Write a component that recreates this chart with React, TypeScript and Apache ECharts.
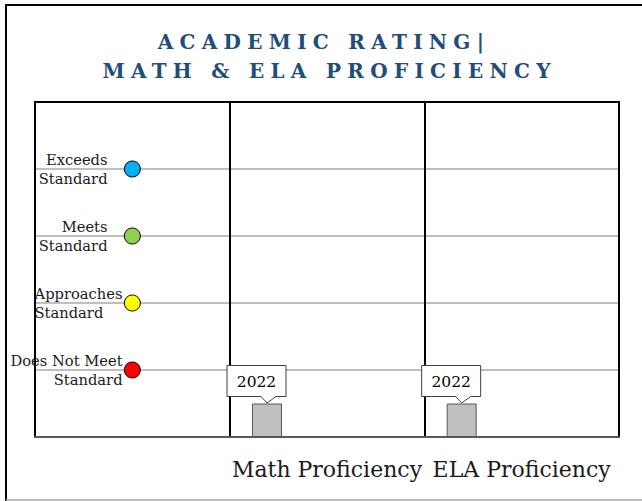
import React, { useEffect, useRef } from "react";
import * as echarts from "echarts";

// ---- data ----
const titleLines = ["ACADEMIC RATING|", "MATH & ELA PROFICIENCY"];
const categories = ["", "Math Proficiency", "ELA Proficiency"];
const ratingLabels = ["Does Not Meet\nStandard", "Approaches\nStandard", "Meets\nStandard", "Exceeds\nStandard"];
const ratingValues = [1, 2, 3, 4];
const ratingColors = ["#ff0000", "#ffff00", "#92d050", "#00b0f0"];
const yearName = "2022";
const values2022 = [null, 0.5, 0.5];
const emptySlots = ["slot2", "slot3"]; // unused bar slots beside 2022

const SERIF = "DejaVu Serif";
const TITLE_COLOR = "#1f4e79";
const TITLE_SPACING = 6.3;
const BAR_W = 30;

// label placement per rating (offset from symbol box, alignment)
const ratingLabelPos: [number, number, string][] = [
  [-1.3, 8, "right"],
  [-89.3, 8, "left"],
  [-16.3, 8, "right"],
  [-16.3, 8, "right"],
];

export default function App() {
  const ref = useRef<HTMLDivElement>(null);

  useEffect(() => {
    if (!ref.current) return;
    const chart = echarts.init(ref.current, undefined, { renderer: "svg" });

    const nSlots = 1 + emptySlots.length;
    const total = nSlots * BAR_W + (nSlots - 1) * BAR_W;
    const firstOffset = -total / 2 + BAR_W / 2;

    const scatterData = ratingValues.map((v, i) => ({
      value: [0, v],
      itemStyle: { color: ratingColors[i] },
      label: {
        show: true,
        formatter: ratingLabels[i],
        position: [ratingLabelPos[i][0], ratingLabelPos[i][1]],
        align: ratingLabelPos[i][2],
        verticalAlign: "middle",
      },
    }));

    const calloutData: any[] = [];
    values2022.forEach((v, i) => {
      if (v != null) calloutData.push([i, v]);
    });

    const titleCenters = [324, 329.7];
    const titleTops = [27, 56];

    chart.setOption({
      animation: false,
      backgroundColor: "#ffffff",
      title: titleLines.map((t, i) => ({
        text: t,
        left: titleCenters[i],
        top: titleTops[i],
        textAlign: "center",
        padding: 0,
        textStyle: {
          fontFamily: SERIF,
          fontSize: 20,
          fontWeight: "bold",
          color: TITLE_COLOR,
          lineHeight: 29,
        },
      })),
      graphic: [
        { type: "line", shape: { x1: 5, y1: 5, x2: 642, y2: 5 }, style: { stroke: "#000", lineWidth: 2 } },
        { type: "line", shape: { x1: 6, y1: 4, x2: 6, y2: 501 }, style: { stroke: "#000", lineWidth: 2 } },
        { type: "line", shape: { x1: 6, y1: 500, x2: 642, y2: 500 }, style: { stroke: "#a6a6a6", lineWidth: 1.5 } },
      ],
      grid: {
        left: 35,
        right: 23,
        top: 102,
        bottom: 64,
        show: true,
        borderColor: "#000",
        borderWidth: 2,
        containLabel: false,
      },
      xAxis: {
        type: "category",
        data: categories,
        z: 1,
        axisLine: { show: true, lineStyle: { color: "#595959", width: 2 } },
        axisTick: { show: false },
        splitLine: { show: true, lineStyle: { color: "#000", width: 2 } },
        axisLabel: {
          fontFamily: SERIF,
          fontSize: 22,
          color: "#1a1a1a",
          margin: 21,
          interval: 0,
        },
      },
      yAxis: {
        type: "value",
        min: 0,
        max: 5,
        interval: 1,
        z: 0,
        axisLine: { show: false },
        axisTick: { show: false },
        axisLabel: { show: false },
        splitLine: {
          show: true,
          lineStyle: {
            color: ["#595959", "#bfbfbf", "#bfbfbf", "#bfbfbf", "#bfbfbf", "#000"],
            width: 2,
          },
        },
      },
      series: [
        {
          type: "bar",
          name: yearName,
          data: values2022,
          barWidth: BAR_W,
          barGap: "100%",
          itemStyle: { color: "#bfbfbf", borderColor: "#595959", borderWidth: 1 },
        },
        ...emptySlots.map((n) => ({
          type: "bar",
          name: n,
          data: categories.map(() => null),
          barWidth: BAR_W,
          barGap: "100%",
        })),
        {
          type: "custom",
          name: yearName + " label",
          data: calloutData,
          z: 5,
          renderItem: (params: any, api: any) => {
            const pt = api.coord([api.value(0), api.value(1)]);
            const bx = pt[0] + firstOffset;
            const tip = pt[1] - 0.5;
            const B = tip - 6.5;
            const T = B - 31;
            const L = bx - 40;
            const R = bx + 19;
            return {
              type: "group",
              children: [
                {
                  type: "polygon",
                  shape: {
                    points: [
                      [L, T],
                      [R, T],
                      [R, B],
                      [bx + 9, B],
                      [bx, tip],
                      [bx - 6, B],
                      [L, B],
                    ],
                  },
                  style: { fill: "#ffffff", stroke: "#404040", lineWidth: 1 },
                },
                {
                  type: "text",
                  style: {
                    text: yearName,
                    x: (L + R) / 2,
                    y: (T + B) / 2 + 1,
                    align: "center",
                    verticalAlign: "middle",
                    fontFamily: SERIF,
                    fontSize: 15.5,
                    fill: "#000",
                  },
                },
              ],
            };
          },
        },
        {
          type: "scatter",
          name: "Rating",
          data: scatterData,
          symbol: "circle",
          symbolSize: 16,
          z: 4,
          itemStyle: { borderColor: "#000", borderWidth: 1, opacity: 1 },
          label: {
            fontFamily: SERIF,
            fontSize: 14.7,
            lineHeight: 19,
            color: "#1a1a1a",
          },
        },
      ],
    });

    const applySpacing = () => {
      if (!ref.current) return;
      ref.current.querySelectorAll("text").forEach((t) => {
        const s = (t.textContent || "").trim();
        if (titleLines.includes(s)) {
          (t as SVGTextElement).style.letterSpacing = TITLE_SPACING + "px";
        }
      });
    };
    applySpacing();
    chart.on("finished", applySpacing);

    return () => {
      chart.dispose();
    };
  }, []);

  return (
    <>
      <style>{`[fill="${TITLE_COLOR}"]{letter-spacing:${TITLE_SPACING}px}`}</style>
      <div
        ref={ref}
        style={{ position: "fixed", left: 0, top: 0, width: 642, height: 501, background: "#fff" }}
      />
    </>
  );
}
